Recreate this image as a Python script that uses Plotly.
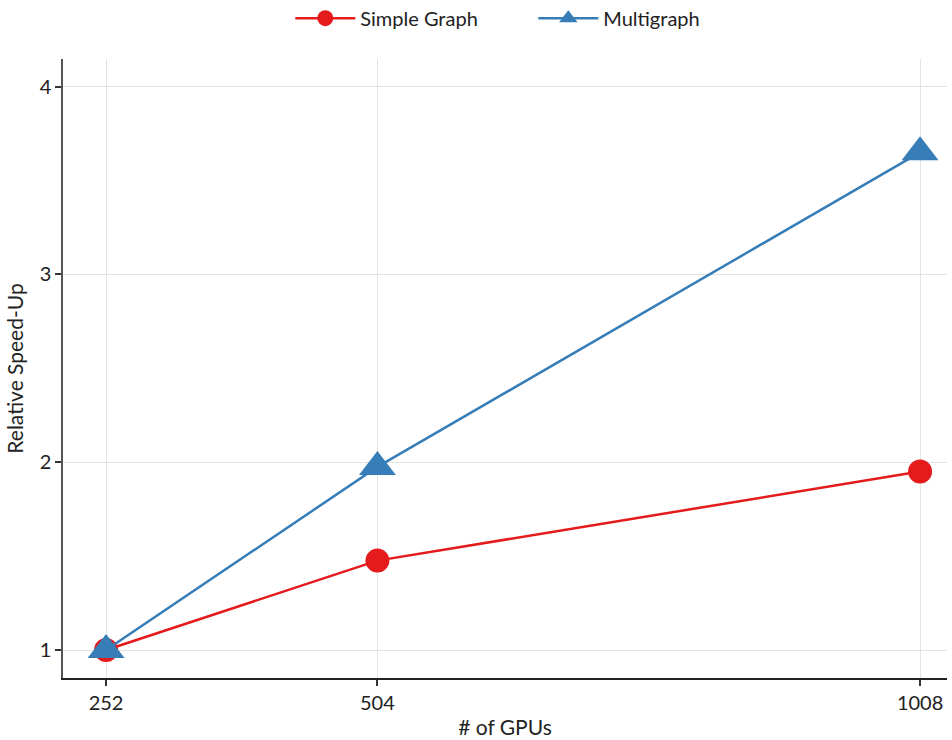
import plotly.graph_objects as go

gpus = [252, 504, 1008]
simple_graph = [1.0, 1.476, 1.95]
multigraph = [1.0, 1.975, 3.65]
y_ticks = [1, 2, 3, 4]

FONT = "Lato"
fig = go.Figure()
fig.add_trace(go.Scatter(
    x=gpus, y=simple_graph, name="Simple Graph", mode="lines+markers",
    line=dict(color="#E41A1C", width=2.5),
    marker=dict(symbol="circle", size=24, color="#E41A1C"),
))
fig.add_trace(go.Scatter(
    x=gpus, y=multigraph, name="Multigraph", mode="lines+markers",
    line=dict(color="#377EB8", width=2.5),
    marker=dict(symbol="triangle-up", size=32, color="#377EB8"),
))

fig.update_layout(
    width=952, height=740,
    margin=dict(l=63, r=5, t=59, b=62, autoexpand=False),
    plot_bgcolor="white", paper_bgcolor="white",
    font=dict(family=FONT, size=20, color="#222222"),
    legend=dict(orientation="h", x=0.532, xanchor="center", y=1.066, yanchor="middle",
                font=dict(size=20, color="#222222"), itemwidth=60,
                entrywidth=168, entrywidthmode="pixels"),
    xaxis=dict(
        title=dict(text="# of GPUs", standoff=8, font=dict(size=21)),
        range=[212, 1033], tickvals=gpus, ticktext=[str(g) for g in gpus],
        showgrid=True, gridcolor="#e3e3e3", gridwidth=1,
        showline=True, linecolor="#222222", linewidth=1.5,
        ticks="outside", ticklen=6, tickcolor="#333333", tickwidth=2,
        zeroline=False, automargin=False,
    ),
    yaxis=dict(
        title=dict(text="Relative Speed-Up", standoff=10, font=dict(size=21)),
        range=[0.851, 4.147], tickvals=y_ticks,
        showgrid=True, gridcolor="#e3e3e3", gridwidth=1,
        showline=True, linecolor="#555555", linewidth=1.5,
        ticks="outside", ticklen=6, tickcolor="#333333", tickwidth=2,
        zeroline=False, automargin=False,
    ),
)

fig.write_html(
    "out.html",
    config={"displayModeBar": False},
    post_script="document.body.style.margin='0';document.documentElement.style.overflow='hidden';",
)
